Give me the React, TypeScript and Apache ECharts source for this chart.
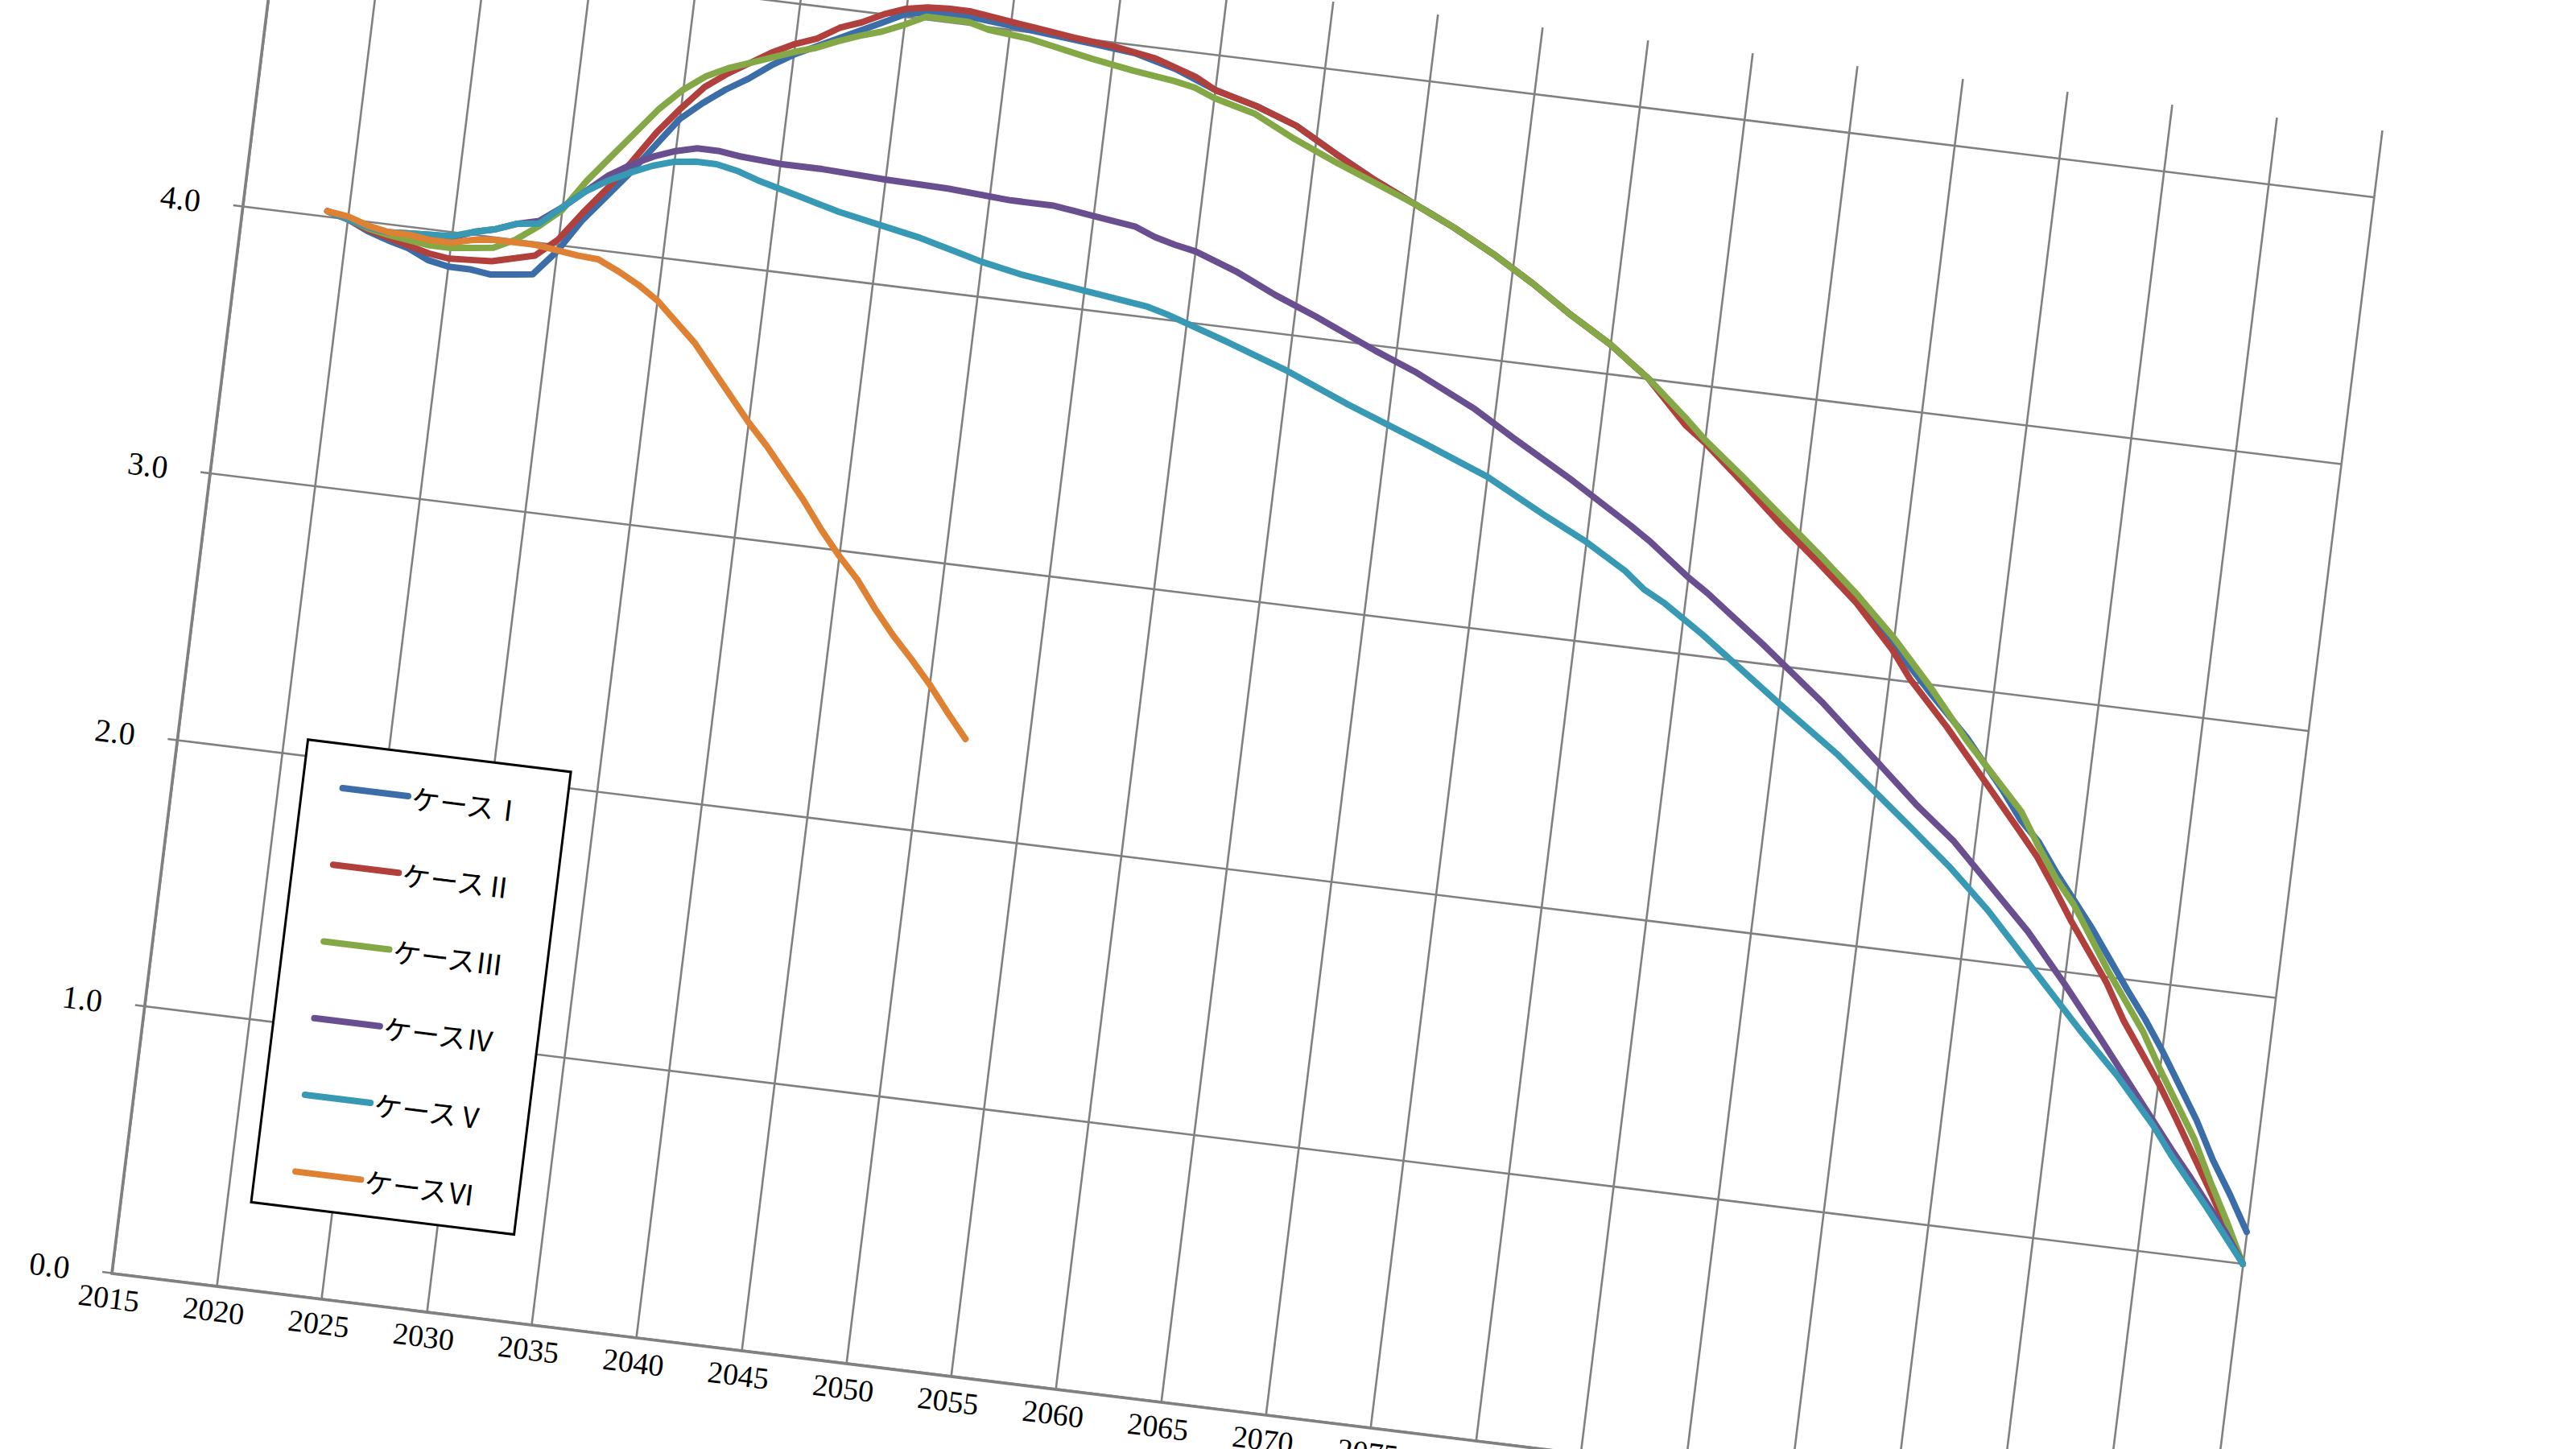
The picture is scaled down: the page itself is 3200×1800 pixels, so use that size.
import React, { useEffect, useRef } from 'react';
import * as echarts from 'echarts';

const seriesNames = ['ケースⅠ', 'ケースⅡ', 'ケースⅢ', 'ケースⅣ', 'ケースⅤ', 'ケースⅥ'];
const seriesColors = ['#3B6DA8', '#B1403D', '#84A846', '#694F90', '#3799B3', '#DF8133'];

const xTickValues = [2015, 2020, 2025, 2030, 2035, 2040, 2045, 2050, 2055, 2060, 2065, 2070, 2075];
const xTickLabels = ['2015', '2020', '2025', '2030', '2035', '2040', '2045', '2050', '2055', '2060', '2065', '2070', '2075'];
const yTickValues = [0, 1, 2, 3, 4];
const yTickLabels = ['0.0', '1.0', '2.0', '3.0', '4.0'];

const caseI: [number, number][] = [
  [2019, 4.02], [2020, 4.0], [2021, 3.965], [2022, 3.94], [2023, 3.92], [2024, 3.885], [2025, 3.87], [2026, 3.87],
  [2027, 3.86], [2028, 3.87], [2029, 3.88], [2030, 3.975], [2031, 4.1], [2032, 4.2], [2033, 4.3], [2034, 4.41],
  [2035, 4.52], [2036, 4.59], [2037, 4.65], [2038, 4.7], [2039, 4.76], [2040, 4.81], [2041, 4.85], [2042, 4.89],
  [2043, 4.93], [2044, 4.97], [2045, 5.01], [2046, 5.025], [2048, 5.03], [2050, 5.015], [2052, 5.0], [2054, 4.985],
  [2056, 4.97], [2058, 4.93], [2060, 4.87], [2062, 4.83], [2064, 4.775], [2066, 4.69], [2068, 4.61], [2070, 4.54],
  [2072, 4.47], [2074, 4.39], [2076, 4.3], [2078, 4.2], [2080, 4.11], [2082, 4.0], [2084, 3.85], [2085, 3.795],
  [2087, 3.665], [2089, 3.535], [2091, 3.41], [2093, 3.28], [2095, 3.13], [2097, 2.97], [2099, 2.82], [2100, 2.73],
  [2101, 2.64], [2102, 2.54], [2103, 2.465], [2104, 2.36], [2106, 2.17], [2108, 1.96], [2109, 1.86], [2110, 1.75],
  [2111, 1.63], [2112, 1.51], [2113, 1.37], [2114, 1.25], [2115, 1.12],
];

const caseII: [number, number][] = [
  [2019, 4.02], [2020, 4.0], [2021, 3.97], [2022, 3.95], [2023, 3.93], [2024, 3.91], [2025, 3.9], [2026, 3.905],
  [2027, 3.91], [2028, 3.93], [2029, 3.95], [2030, 4.02], [2031, 4.13], [2032, 4.23], [2033, 4.34], [2034, 4.46],
  [2035, 4.56], [2036, 4.65], [2037, 4.71], [2038, 4.76], [2039, 4.81], [2040, 4.85], [2041, 4.88], [2042, 4.93],
  [2043, 4.96], [2044, 5.0], [2045, 5.03], [2046, 5.045], [2047, 5.05], [2048, 5.05], [2049, 5.04], [2051, 5.02],
  [2053, 5.0], [2055, 4.985], [2057, 4.96], [2059, 4.91], [2060, 4.87], [2062, 4.83], [2064, 4.775], [2066, 4.69],
  [2068, 4.61], [2070, 4.54], [2072, 4.47], [2074, 4.39], [2076, 4.3], [2078, 4.2], [2080, 4.11], [2082, 4.0],
  [2084, 3.845], [2085, 3.79], [2087, 3.66], [2089, 3.525], [2091, 3.4], [2093, 3.27], [2095, 3.11], [2096, 3.01],
  [2098, 2.85], [2100, 2.675], [2102, 2.5], [2103, 2.41], [2104, 2.3], [2105, 2.185], [2107, 1.975], [2108, 1.845],
  [2110, 1.63], [2111, 1.51], [2113, 1.26], [2114, 1.13], [2115, 1.0],
];

const caseIII: [number, number][] = [
  [2019, 4.02], [2020, 4.0], [2021, 3.975], [2022, 3.96], [2023, 3.95], [2024, 3.94], [2025, 3.94], [2026, 3.95],
  [2027, 3.96], [2028, 4.0], [2029, 4.06], [2030, 4.13], [2031, 4.25], [2032, 4.35], [2033, 4.45], [2034, 4.55],
  [2035, 4.63], [2036, 4.69], [2037, 4.73], [2038, 4.76], [2039, 4.79], [2040, 4.82], [2041, 4.845], [2042, 4.88],
  [2043, 4.91], [2044, 4.935], [2045, 4.97], [2046, 5.01], [2048, 5.01], [2049, 4.99], [2051, 4.975], [2052, 4.96],
  [2054, 4.93], [2056, 4.905], [2058, 4.885], [2059, 4.87], [2060, 4.84], [2062, 4.8], [2064, 4.725], [2066, 4.66],
  [2068, 4.6], [2070, 4.54], [2072, 4.47], [2074, 4.39], [2076, 4.3], [2078, 4.2], [2080, 4.11], [2082, 4.0],
  [2084, 3.87], [2085, 3.8], [2087, 3.68], [2089, 3.555], [2091, 3.43], [2093, 3.3], [2095, 3.155], [2097, 2.99],
  [2099, 2.81], [2100, 2.73], [2102, 2.57], [2103, 2.45], [2104, 2.34], [2105, 2.25], [2107, 2.02], [2109, 1.81],
  [2110, 1.68], [2112, 1.44], [2113, 1.29], [2114, 1.15], [2115, 1.0],
];

const caseIV: [number, number][] = [
  [2019, 4.02], [2020, 4.0], [2021, 3.98], [2022, 3.97], [2023, 3.975], [2024, 3.98], [2025, 3.98], [2026, 4.01],
  [2027, 4.03], [2028, 4.06], [2029, 4.08], [2030, 4.14], [2031, 4.21], [2032, 4.28], [2033, 4.33], [2034, 4.37],
  [2035, 4.4], [2036, 4.42], [2037, 4.42], [2038, 4.41], [2040, 4.4], [2042, 4.4], [2045, 4.39], [2048, 4.385],
  [2051, 4.37], [2053, 4.37], [2054, 4.36], [2055, 4.35], [2057, 4.33], [2058, 4.3], [2059, 4.28], [2060, 4.265],
  [2062, 4.21], [2064, 4.14], [2066, 4.08], [2069, 3.98], [2071, 3.92], [2074, 3.81], [2076, 3.72], [2079, 3.59],
  [2082, 3.45], [2083, 3.4], [2085, 3.285], [2086, 3.235], [2089, 3.065], [2092, 2.885], [2095, 2.685], [2097, 2.55],
  [2099, 2.43], [2101, 2.28], [2103, 2.13], [2105, 1.955], [2107, 1.77], [2109, 1.58], [2111, 1.39], [2112, 1.3],
  [2114, 1.11], [2115, 1.0],
];

const caseV: [number, number][] = [
  [2019, 4.02], [2020, 4.0], [2021, 3.98], [2022, 3.97], [2023, 3.975], [2024, 3.98], [2025, 3.985], [2026, 4.01],
  [2027, 4.03], [2028, 4.06], [2029, 4.07], [2030, 4.14], [2031, 4.21], [2032, 4.26], [2033, 4.3], [2034, 4.335],
  [2035, 4.36], [2036, 4.37], [2037, 4.37], [2038, 4.355], [2039, 4.33], [2040, 4.31], [2041, 4.29], [2042, 4.27],
  [2043, 4.25], [2045, 4.22], [2047, 4.19], [2049, 4.15], [2050, 4.13], [2052, 4.1], [2055, 4.07], [2058, 4.04],
  [2059, 4.02], [2062, 3.945], [2065, 3.865], [2068, 3.77], [2072, 3.655], [2075, 3.565], [2078, 3.445], [2080, 3.37],
  [2082, 3.28], [2083, 3.22], [2084, 3.18], [2086, 3.08], [2090, 2.86], [2093, 2.7], [2097, 2.455], [2099, 2.33],
  [2100, 2.26], [2101, 2.19], [2103, 2.03], [2105, 1.87], [2106, 1.79], [2108, 1.64], [2110, 1.47], [2111, 1.37],
  [2113, 1.19], [2115, 1.0],
];

const caseVI: [number, number][] = [
  [2019, 4.02], [2020, 4.01], [2021, 3.985], [2022, 3.97], [2023, 3.97], [2024, 3.96], [2025, 3.96], [2026, 3.98],
  [2027, 3.99], [2028, 3.99], [2029, 3.99], [2030, 3.98], [2031, 3.97], [2032, 3.965], [2033, 3.93], [2034, 3.89],
  [2035, 3.84], [2036, 3.77], [2037, 3.7], [2038, 3.61], [2039, 3.52], [2040, 3.43], [2041, 3.35], [2042, 3.26],
  [2043, 3.17], [2044, 3.07], [2045, 2.98], [2046, 2.9], [2047, 2.8], [2048, 2.71], [2049, 2.63], [2050, 2.545],
  [2051, 2.45], [2052, 2.36],
];

const caseData = [caseI, caseII, caseIII, caseIV, caseV, caseVI];

const GRID_COLOR = '#808080';
const LINE_WIDTH = 8;

export default function App() {
  const ref = useRef<HTMLDivElement>(null);

  useEffect(() => {
    if (!ref.current) return;
    const chart = echarts.init(ref.current, null, { renderer: 'svg' });
    chart.setOption({
      animation: false,
      backgroundColor: 'transparent',
      grid: { left: 200, top: 100, width: 2626, height: 1752.45, containLabel: false },
      xAxis: {
        type: 'value',
        min: 2015,
        max: 2115,
        interval: 5,
        axisLine: { show: true, onZero: false, lineStyle: { color: GRID_COLOR, width: 3.6 } },
        axisTick: { show: false },
        axisLabel: {
          margin: 12,
          fontSize: 38,
          fontFamily: 'Liberation Serif',
          color: '#000',
          formatter: (v: number) => {
            const i = xTickValues.indexOf(v);
            return i >= 0 ? xTickLabels[i] : '';
          },
        },
        splitLine: { show: true, lineStyle: { color: GRID_COLOR, width: 2.6 } },
      },
      yAxis: {
        type: 'value',
        min: 0,
        max: 5.25,
        interval: 1,
        axisLine: { show: true, onZero: false, lineStyle: { color: GRID_COLOR, width: 3.6 } },
        axisTick: { show: true, length: 12, lineStyle: { color: GRID_COLOR, width: 2.6 } },
        axisLabel: {
          margin: 53,
          fontSize: 40,
          fontFamily: 'Liberation Serif',
          color: '#000',
          showMaxLabel: false,
          formatter: (v: number) => {
            const i = yTickValues.indexOf(v);
            return i >= 0 ? yTickLabels[i] : '';
          },
        },
        splitLine: { show: true, showMaxLine: false, lineStyle: { color: GRID_COLOR, width: 2.6 } },
      },
      legend: {
        data: seriesNames,
        orient: 'vertical',
        left: 361,
        top: 1165,
        padding: [37, 52, 27, 46],
        itemGap: 61,
        itemWidth: 82,
        itemHeight: 2,
        backgroundColor: '#fff',
        borderColor: '#000',
        borderWidth: 3,
        selectedMode: false,
        textStyle: { fontSize: 35, lineHeight: 34, color: '#000', fontFamily: 'Noto Sans CJK JP' },
        lineStyle: { width: LINE_WIDTH, cap: 'round' },
        itemStyle: { opacity: 0 },
      },
      series: seriesNames.map((name, i) => ({
        name,
        type: 'line',
        data: caseData[i],
        showSymbol: false,
        symbol: 'none',
        lineStyle: { color: seriesColors[i], width: LINE_WIDTH, cap: 'round', join: 'round' },
        itemStyle: { color: seriesColors[i] },
      })),
    });
    return () => chart.dispose();
  }, []);

  return (
    <div
      style={{
        position: 'fixed',
        left: 0,
        top: 0,
        width: 3200,
        height: 1800,
        overflow: 'hidden',
        background: '#fff',
      }}
    >
      <div
        ref={ref}
        style={{
          position: 'absolute',
          left: -61,
          top: -271.45,
          width: 3000,
          height: 2050,
          transform: 'rotate(7deg)',
          transformOrigin: '200px 1852.45px',
        }}
      />
    </div>
  );
}
